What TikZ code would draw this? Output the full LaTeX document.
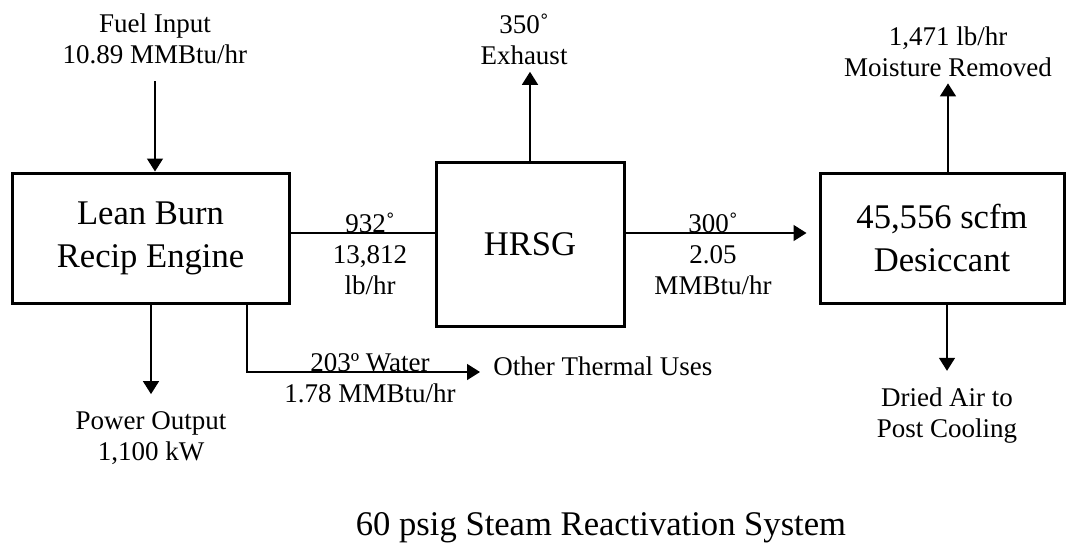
\documentclass[tikz,border=0pt]{standalone}
\usepackage{fontspec}
\setmainfont{Liberation Serif}
\usetikzlibrary{arrows.meta,positioning}

\begin{document}
\begin{tikzpicture}[
          x=0.5pt, y=-0.5pt,
          blk/.style={draw, line width=1.5pt, align=center, inner sep=0pt, font=\fontsize{17.3}{21.5}\selectfont},
          lbl/.style={align=center, inner sep=0pt, font=\fontsize{13.5}{15.5}\selectfont},
          flow/.style={-{Triangle[length=6.5pt,width=8pt]}, line width=0.75pt},
          pipe/.style={line width=0.75pt}
        ]
        \useasboundingbox (0,0) rectangle (1076,546);
        \node[blk, minimum width=138.5pt, minimum height=65pt] (engine) at (150.5,238) {Lean Burn\\Recip Engine};
        \node[blk, minimum width=94pt, minimum height=82pt] (hrsg) at (530,244) {HRSG};
        \node[blk, minimum width=122pt, minimum height=65pt] (desic) at (942,238) {45,556 scfm\\Desiccant};
        \node[lbl] (fuel) at (155,39) {Fuel Input\\10.89 MMBtu/hr};
        \node[lbl] (exh) at (524,39) {350˚\\Exhaust};
        \node[lbl] (moist) at (948,52) {1,471 lb/hr\\Moisture Removed};
        \node[lbl] (gas) at (370,254) {932˚\\13,812\\lb/hr};
        \node[lbl] (steam) at (713,254) {300˚\\2.05\\MMBtu/hr};
        \node[lbl] (water) at (370,378) {203º Water\\1.78 MMBtu/hr};
        \node[lbl, anchor=west] (other) at (493,366) {Other Thermal Uses};
        \node[lbl] (pow) at (151,438) {Power Output\\1,100 kW};
        \node[lbl] (dried) at (947,416) {Dried Air to\\Post Cooling};
        \node[blk, draw=none] (title) at (601,528) {60 psig Steam Reactivation System};
        \draw[flow] ([yshift=-8.5pt]fuel.south) -- (fuel.south |- engine.north);
        \draw[flow, shorten >=3.5pt] (hrsg.north) -- (hrsg.north |- exh.south);
        \draw[flow, shorten >=3pt] (desic.north -| moist.south) -- (moist.south);
        \draw[pipe] (engine.east |- 0,233) -- (hrsg.west |- 0,233);
        \draw[flow, shorten >=6pt] (hrsg.east |- 0,233) -- (desic.west |- 0,233);
        \draw[flow, shorten >=8.5pt] (pow.north |- engine.south) -- (pow.north);
        \draw[flow, shorten >=6.5pt] (engine.south -| 247,0) |- (other.west |- 0,372);
        \draw[flow, shorten >=8.5pt] (dried.north |- desic.south) -- (dried.north);
      \end{tikzpicture}
\end{document}
